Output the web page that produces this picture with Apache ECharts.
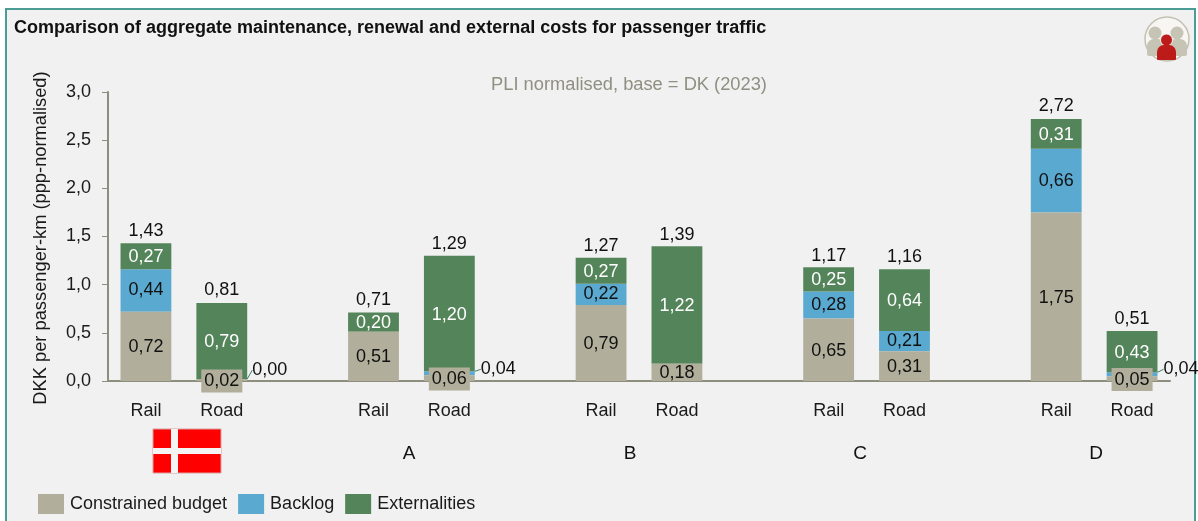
<!DOCTYPE html>
<html>
<head>
<meta charset="utf-8">
<style>html,body{margin:0;padding:0;background:#fff}#chart{width:1198px;height:521px}</style>
<script src="https://cdn.jsdelivr.net/npm/echarts@6/dist/echarts.min.js"></script>
</head>
<body>
<div id="chart"></div>
<script>
// Cost components per passenger-km; empty slots separate the country groups.
const categories = ['Rail','Road','','Rail','Road','','Rail','Road','','Rail','Road','','Rail','Road'];
const budget        = [0.72,0.02,null,0.51,0.06,null,0.79,0.18,null,0.65,0.31,null,1.75,0.05];
const backlog       = [0.44,0.00,null,null,0.04,null,0.22,null,null,0.28,0.21,null,0.66,0.04];
const externalities = [0.27,0.79,null,0.20,1.20,null,0.27,1.22,null,0.25,0.64,null,0.31,0.43];
const totals        = [1.43,0.81,null,0.71,1.29,null,1.27,1.39,null,1.17,1.16,null,2.72,0.51];
const groupLabels = [['A',409],['B',630],['C',860],['D',1096]];

const FONT = '"Liberation Sans", Arial, sans-serif';
const comma = (v, d) => Number(v).toFixed(d).replace('.', ',');
const fmt = p => comma(Array.isArray(p.value) ? p.value[1] : p.value, 2);

// Backlog values too thin to hold a label are pulled out to the right with a leader line.
const pulledOut = { 1: { dx: 48, dy: -9 }, 4: { dx: 49, dy: -4 }, 13: { dx: 49, dy: -5 } };
const backlogData = backlog.map((v, i) => pulledOut[i]
  ? { value: v, labelLine: { show: true, lineStyle: { color: '#3f7f6a', width: 1 } } }
  : v);
// Budget values on thin segments get a filled box so they stay readable.
const boxed = new Set([1, 4, 13]);
const budgetData = budget.map((v, i) => boxed.has(i)
  ? { value: v, label: { backgroundColor: '#b1ae9b', padding: [3, 3, 2, 3] } }
  : v);

const barBase = { type: 'bar', stack: 'cost', barWidth: '67%', emphasis: { disabled: true } };
const valueLabel = color => ({ show: true, position: 'inside', offset: [0, 1], color, fontFamily: FONT, fontSize: 18, formatter: fmt });

const option = {
  animation: false,
  backgroundColor: '#ffffff',
  textStyle: { fontFamily: FONT },
  grid: { left: 108, top: 92, width: 1062, height: 289, containLabel: false },
  legend: {
    left: 38, top: 494, itemWidth: 26, itemHeight: 20, itemGap: 11, padding: 0,
    icon: 'rect', selectedMode: false,
    textStyle: { fontFamily: FONT, fontSize: 18, color: '#1a1a1a', padding: [0, 0, 0, 1] },
    data: ['Constrained budget', 'Backlog', 'Externalities']
  },
  xAxis: {
    type: 'category', data: categories,
    axisLine: { lineStyle: { color: '#8e8e7e', width: 2 } },
    axisTick: { show: false },
    axisLabel: { color: '#1a1a1a', fontFamily: FONT, fontSize: 18, margin: 21, interval: 0 }
  },
  yAxis: {
    type: 'value', min: 0, max: 3, interval: 0.5,
    name: 'DKK per passenger-km (ppp-normalised)',
    nameLocation: 'middle', nameGap: 58, nameRotate: 90,
    nameTextStyle: { color: '#1a1a1a', fontFamily: FONT, fontSize: 18.3, padding: [0, 3, 0, 0] },
    splitLine: { show: false },
    axisLine: { show: true, lineStyle: { color: '#8e8e7e', width: 2 } },
    axisTick: { show: true, length: 6, lineStyle: { color: '#8e8e7e' } },
    axisLabel: { color: '#1a1a1a', fontFamily: FONT, fontSize: 18, margin: 17, padding: [3, 0, 0, 0], formatter: v => comma(v, 1) }
  },
  series: [
    Object.assign({}, barBase, { name: 'Constrained budget', data: budgetData,
      itemStyle: { color: '#b1ae9b' }, label: valueLabel('#111111'), z: 3 }),
    Object.assign({}, barBase, { name: 'Backlog', data: backlogData,
      itemStyle: { color: '#5aa9d0' }, label: valueLabel('#111111'), z: 2,
      labelLayout: p => pulledOut[p.dataIndex] || {} }),
    Object.assign({}, barBase, { name: 'Externalities', data: externalities,
      itemStyle: { color: '#54845a' }, label: valueLabel('#ffffff'), z: 2 }),
    // Totals sit above each stack as plain text on an invisible point.
    { name: 'Total', type: 'scatter', data: totals, symbolSize: 1, silent: true,
      itemStyle: { color: 'rgba(0,0,0,0)', opacity: 1 }, z: 5,
      label: { show: true, position: 'top', distance: 3, color: '#111111', fontFamily: FONT, fontSize: 18, formatter: fmt } }
  ],
  graphic: { elements: [
    // Panel
    { type: 'rect', z: -10, silent: true, shape: { x: 6, y: 9, width: 1189, height: 530 },
      style: { fill: '#f1f1f1', stroke: '#4a9c94', lineWidth: 2 } },
    { type: 'text', x: 14, y: 19, style: { text: 'Comparison of aggregate maintenance, renewal and external costs for passenger traffic',
      font: 'bold 18px ' + FONT, fill: '#111111' } },
    { type: 'text', x: 629, y: 85, style: { text: 'PLI normalised, base = DK (2023)', font: '18.3px ' + FONT,
      fill: '#8f8f82', textAlign: 'center', textVerticalAlign: 'middle' } },
    // Group labels under the axis
    ...groupLabels.map(([t, x]) => ({ type: 'text', x, y: 454, style: { text: t, font: '19px ' + FONT,
      fill: '#111111', textAlign: 'center', textVerticalAlign: 'middle' } })),
    // Danish flag
    { type: 'rect', shape: { x: 153, y: 429, width: 68, height: 44 }, style: { fill: '#ff0000', stroke: '#d9a0a0', lineWidth: 1 } },
    { type: 'rect', shape: { x: 171, y: 429, width: 7, height: 44 }, style: { fill: '#f4f4f4' } },
    { type: 'rect', shape: { x: 153, y: 448, width: 68, height: 6 }, style: { fill: '#f4f4f4' } },
    // Passenger badge
    { type: 'circle', shape: { cx: 1167, cy: 39, r: 22 }, style: { fill: '#f7f6f2', stroke: '#c3c1b2', lineWidth: 1.5 } },
    { type: 'circle', shape: { cx: 1155, cy: 33, r: 6.5 }, style: { fill: '#c6c4b4' } },
    { type: 'circle', shape: { cx: 1177, cy: 33, r: 6.5 }, style: { fill: '#c6c4b4' } },
    { type: 'rect', shape: { x: 1147, y: 39, width: 18, height: 17, r: [7, 7, 2, 2] }, style: { fill: '#c6c4b4' } },
    { type: 'rect', shape: { x: 1169, y: 39, width: 18, height: 17, r: [7, 7, 2, 2] }, style: { fill: '#c6c4b4' } },
    { type: 'circle', shape: { cx: 1166.5, cy: 40, r: 6 }, style: { fill: '#bd1a1a', stroke: '#f1f1f1', lineWidth: 1 } },
    { type: 'rect', shape: { x: 1157, y: 45, width: 19, height: 15, r: [7, 7, 1, 1] }, style: { fill: '#bd1a1a' } }
  ] }
};

const chart = echarts.init(document.getElementById('chart'), null, { renderer: 'canvas' });
chart.setOption(option);
</script>
</body>
</html>
